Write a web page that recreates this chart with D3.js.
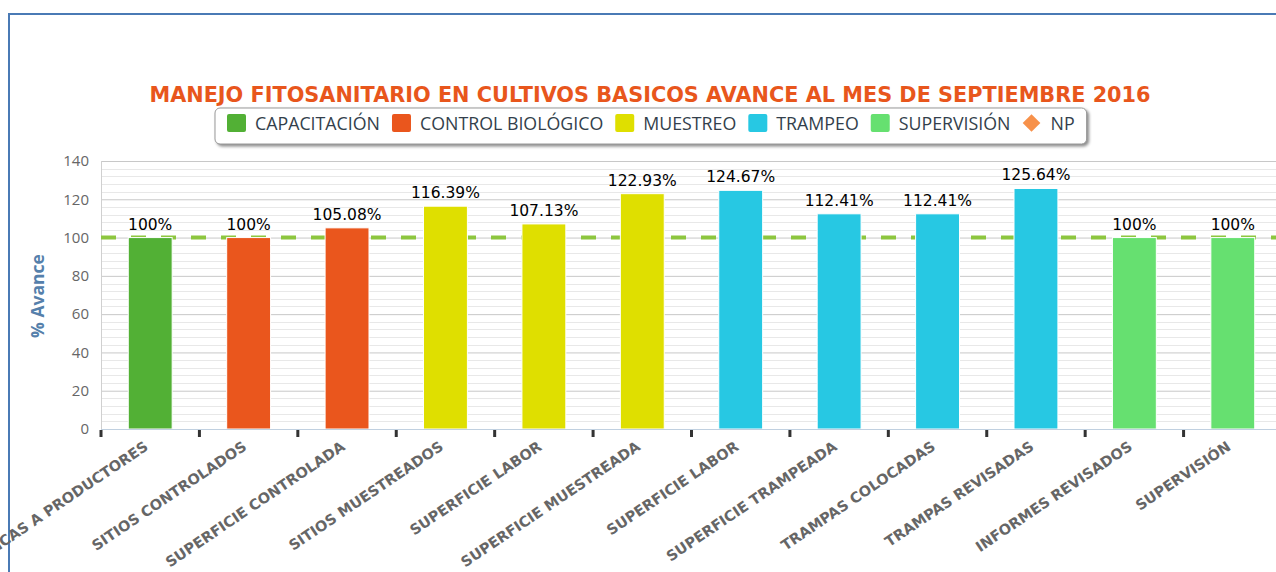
<!DOCTYPE html>
<html>
<head>
<meta charset="utf-8">
<script src="https://cdn.jsdelivr.net/npm/d3@7"></script>
<style>
  body { margin: 0; background: #fff; }
  svg { display: block; }
</style>
</head>
<body>
<svg id="chart"></svg>
<script>
// data
let categories = ['PLATICAS A PRODUCTORES', 'SITIOS CONTROLADOS', 'SUPERFICIE CONTROLADA', 'SITIOS MUESTREADOS',
  'SUPERFICIE LABOR', 'SUPERFICIE MUESTREADA', 'SUPERFICIE LABOR', 'SUPERFICIE TRAMPEADA',
  'TRAMPAS COLOCADAS', 'TRAMPAS REVISADAS', 'INFORMES REVISADOS', 'SUPERVISIÓN']
let values = [100, 100, 105.08, 116.39, 107.13, 122.93, 124.67, 112.41, 112.41, 125.64, 100, 100]
let groups = ['CAPACITACIÓN', 'CONTROL BIOLÓGICO', 'CONTROL BIOLÓGICO', 'MUESTREO', 'MUESTREO', 'MUESTREO',
  'TRAMPEO', 'TRAMPEO', 'TRAMPEO', 'TRAMPEO', 'SUPERVISIÓN', 'SUPERVISIÓN']
let legendNames = ['CAPACITACIÓN', 'CONTROL BIOLÓGICO', 'MUESTREO', 'TRAMPEO', 'SUPERVISIÓN', 'NP']
let legendColors = ['#52b035', '#ea561d', '#dfdf00', '#27c8e3', '#66e070', '#f7914a']
let yTicks = [0, 20, 40, 60, 80, 100, 120, 140]
let goal = 100
let title = 'MANEJO FITOSANITARIO EN CULTIVOS BASICOS AVANCE AL MES DE SEPTIEMBRE 2016'

let width = 1276
let height = 572
let plotLeft = 101
let plotRight = 1282
let plotTop = 161
let plotBottom = 429

let svg = d3.select('#chart').attr('width', width).attr('height', height)

let color = d3.scaleOrdinal().domain(legendNames).range(legendColors)

let xScale = d3.scaleBand()
  .domain(d3.range(categories.length))
  .range([plotLeft, plotRight])
  .paddingInner(0.554)
  .paddingOuter(0.277)

let yScale = d3.scaleLinear().domain([0, 140]).range([plotBottom, plotTop])

// outer frame
svg.append('path')
  .attr('d', 'M9,572 V14 H1276')
  .attr('fill', 'none')
  .attr('stroke', '#4a7ab5')
  .attr('stroke-width', 2)

// minor grid
let minor = d3.range(0, 141, 4).filter(v => v % 20 != 0)
svg.append('g').selectAll('line')
  .data(minor)
  .enter()
  .append('line')
  .attr('x1', plotLeft).attr('x2', width)
  .attr('y1', d => Math.round(yScale(d)) + 0.5)
  .attr('y2', d => Math.round(yScale(d)) + 0.5)
  .attr('stroke', '#e8e8e8')

// major grid
let yGrid = d3.axisLeft(yScale).tickValues(yTicks).tickSize(-(width - plotLeft)).tickFormat('')
svg.append('g')
  .attr('transform', 'translate(' + plotLeft + ',0)')
  .call(yGrid)
  .call(g => g.select('.domain').remove())
  .call(g => g.selectAll('line').attr('stroke', '#c8c8c8'))

// left edge of plot
svg.append('line')
  .attr('x1', plotLeft + 0.5).attr('x2', plotLeft + 0.5)
  .attr('y1', plotTop).attr('y2', plotBottom)
  .attr('stroke', '#d0d0d0')

// y tick labels
let yAxis = d3.axisLeft(yScale).tickValues(yTicks).tickSize(0).tickPadding(12)
svg.append('g')
  .attr('transform', 'translate(' + plotLeft + ',0)')
  .call(yAxis)
  .call(g => g.select('.domain').remove())
  .call(g => g.selectAll('text')
    .attr('font-family', 'Open Sans')
    .attr('font-size', 15)
    .attr('fill', '#666'))

// y title
svg.append('text')
  .attr('transform', 'translate(44,296) rotate(-90)')
  .attr('text-anchor', 'middle')
  .attr('font-family', 'Open Sans')
  .attr('font-weight', 'bold')
  .attr('font-size', 17.5)
  .attr('fill', '#5580ab')
  .text('% Avance')

// goal line
svg.append('line')
  .attr('x1', plotLeft).attr('x2', width)
  .attr('y1', yScale(goal)).attr('y2', yScale(goal))
  .attr('stroke', '#8dc63f')
  .attr('stroke-width', 4)
  .attr('stroke-dasharray', '15,15')

// bars
svg.append('g').selectAll('rect')
  .data(values)
  .enter()
  .append('rect')
  .attr('x', (d, i) => xScale(i))
  .attr('width', xScale.bandwidth())
  .attr('y', d => yScale(d))
  .attr('height', d => plotBottom - yScale(d))
  .attr('fill', (d, i) => color(groups[i]))
  .attr('stroke', '#fff')
  .attr('stroke-width', 1)

// bar labels
svg.append('g').selectAll('text')
  .data(values)
  .enter()
  .append('text')
  .attr('x', (d, i) => xScale(i) + xScale.bandwidth() / 2)
  .attr('y', d => yScale(d) - 8)
  .attr('text-anchor', 'middle')
  .attr('font-family', 'DejaVu Sans')
  .attr('font-size', 15.5)
  .attr('fill', '#000')
  .text(d => d + '%')

// x axis line
svg.append('line')
  .attr('x1', plotLeft).attr('x2', width)
  .attr('y1', plotBottom + 0.5).attr('y2', plotBottom + 0.5)
  .attr('stroke', '#c0d0e0')

// tick marks at category boundaries
svg.append('g').selectAll('rect')
  .data(d3.range(categories.length))
  .enter()
  .append('rect')
  .attr('x', i => plotLeft + i * xScale.step() - 1.5)
  .attr('y', plotBottom + 1)
  .attr('width', 3)
  .attr('height', 7)
  .attr('fill', '#333')

// x labels
svg.append('g').selectAll('text')
  .data(categories)
  .enter()
  .append('text')
  .attr('transform', (d, i) => 'translate(' + (xScale(i) + xScale.bandwidth() / 2 - 1) + ',' + (plotBottom + 20) + ') rotate(-34)')
  .attr('text-anchor', 'end')
  .attr('font-family', 'DejaVu Sans')
  .attr('font-weight', 'bold')
  .attr('font-size', 14.5)
  .attr('fill', '#666')
  .text(d => d)

// title
svg.append('text')
  .attr('x', 650)
  .attr('y', 102)
  .attr('text-anchor', 'middle')
  .attr('font-family', 'DejaVu Sans')
  .attr('font-weight', 'bold')
  .attr('font-size', 20.8)
  .attr('fill', '#e8561c')
  .text(title)

// legend
let legend = svg.append('g')
let box = legend.append('rect')
  .attr('rx', 5)
  .attr('fill', '#fff')
  .attr('stroke', '#999')
  .style('filter', 'drop-shadow(2px 2px 1.5px rgba(0,0,0,0.45))')

let lx = 227
let ly = 123
legendNames.forEach((name, i) => {
  let item = legend.append('g').attr('transform', 'translate(' + lx + ',0)')
  if (name == 'NP') {
    item.append('path')
      .attr('d', d3.symbol(d3.symbolDiamond2, 200)())
      .attr('transform', 'translate(9,' + ly + ')')
      .attr('fill', color(name))
  } else {
    item.append('rect')
      .attr('y', ly - 9)
      .attr('width', 19).attr('height', 18)
      .attr('rx', 2)
      .attr('fill', color(name))
  }
  let t = item.append('text')
    .attr('x', 28)
    .attr('y', ly + 6.5)
    .attr('font-family', 'Open Sans')
    .attr('font-size', 17.8)
    .attr('fill', '#333f4c')
    .text(name)
  lx += 28 + t.node().getComputedTextLength() + 12
})
box.attr('x', 215).attr('y', 108).attr('width', lx - 215).attr('height', 36)
</script>
</body>
</html>
